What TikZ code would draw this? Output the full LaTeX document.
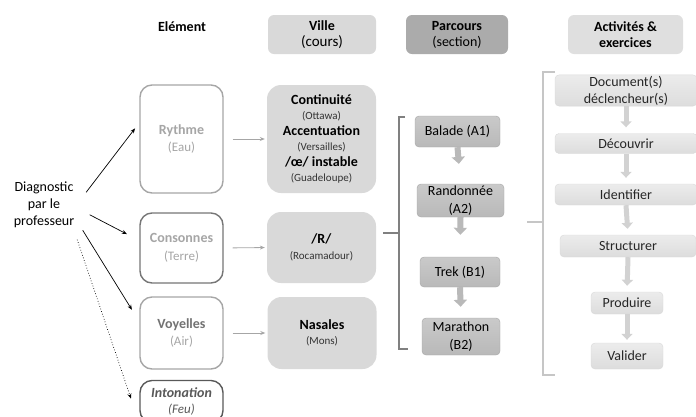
\documentclass[tikz,border=0pt]{standalone}
\usepackage{fontspec}
\setmainfont{Carlito}
\usetikzlibrary{positioning,arrows.meta,calc}

\definecolor{grismoyen}{HTML}{A6A6A6}
\definecolor{grisbord}{HTML}{767676}
\definecolor{grisfonce}{HTML}{595959}
\newcommand{\taille}[2]{\fontsize{#1}{#2}\selectfont}
\newcommand{\petit}[1]{{\taille{11}{12}\color{black!80}#1}}

\begin{document}
\begin{tikzpicture}[x=1pt, y=-1pt, >={Stealth[length=5pt,width=4pt]},
    entete/.style={rounded corners=6pt, minimum height=39pt, align=center, inner sep=0pt, font=\taille{14}{16}},
    elem/.style={draw, rounded corners=12pt, line width=1.4pt, fill=white, minimum width=83pt, align=center, inner sep=0pt, font=\taille{14}{17.5}},
    ville/.style={fill=gray!30, rounded corners=14pt, minimum width=109pt, align=center, inner sep=0pt, font=\taille{14}{15.4}},
    parc/.style={draw=gray!70, top color=gray!42, bottom color=gray!55, rounded corners=4pt, align=center, inner sep=1pt, font=\taille{14}{18}},
    activ/.style={draw=gray!30, top color=gray!15, bottom color=gray!27, rounded corners=4pt, align=center, inner xsep=2pt, inner ysep=1pt, text=black!85, font=\taille{14}{17}},
    lien/.style={->, grismoyen, line width=0.8pt, shorten <=9pt, shorten >=2pt},
    diagfl/.style={->, line width=0.7pt},
    fleche/.style={-{Triangle[width=13pt,length=7pt]}, line width=6pt, gray!55},
    flechea/.style={-{Triangle[width=11pt,length=6pt]}, line width=5pt, gray!35},
  ]
\clip (0,0) rectangle (696,416);

% En-têtes
\node[font=\bfseries\taille{14}{16}] (element) at (182,27) {Elément};
\node[entete, fill=gray!30, minimum width=108pt] (tville) at (322,34.5) {\textbf{Ville}\\{\taille{15}{16}(cours)}};
\node[entete, fill=gray!66, minimum width=102pt] (tparc) at (457,34.5) {\textbf{Parcours}\\(section)};
\node[entete, fill=gray!25, minimum width=115pt, font=\bfseries\taille{14}{16}] (tactiv) at (625.5,34.5) {Activités \&\\exercices};

% Diagnostic
\node[align=center, inner sep=2pt, font=\taille{14}{17}] (diag) at (44,205) {Diagnostic\\par le\\professeur};

% Éléments
\node[elem, draw=grismoyen, text=grismoyen, minimum height=108pt] (rythme) at (181.5,139) {\textbf{Rythme}\\{\taille{13}{14}(Eau)}};
\node[elem, draw=grisbord, text=grismoyen, minimum height=70pt] (consonnes) at (181.5,248) {\textbf{Consonnes}\\{\taille{13}{14}(Terre)}};
\node[elem, draw=grismoyen, text=grismoyen, minimum height=72pt] (voyelles) at (181.5,333) {\textcolor{black!55}{\textbf{Voyelles}}\\{\taille{13}{14}(Air)}};
\node[elem, draw=grisfonce, text=grisfonce, minimum height=42pt, font=\taille{14}{16.5}] (intonation) at (181.5,401.5) {\textbf{\textit{Intonation}}\\{\itshape\taille{13}{14}(Feu)}};

% Villes
\node[ville, minimum height=108pt] (continuite) at (321.5,139) {\textbf{Continuité}\\\petit{(Ottawa)}\\\textbf{Accentuation}\\\petit{(Versailles)}\\\textbf{/œ/ instable}\\\petit{(Guadeloupe)}};
\node[ville, minimum height=71pt] (rvil) at (321.5,247.5) {\textbf{/R/}\\\petit{(Rocamadour)}};
\node[ville, minimum height=72pt] (nasales) at (322,333) {\textbf{Nasales}\\\petit{(Mons)}};

% Parcours
\node[parc, minimum width=85pt, minimum height=31pt] (balade) at (457.5,131.5) {Balade (A1)};
\node[parc, minimum width=87pt, minimum height=33pt] (rando) at (460.5,200.5) {Randonnée\\(A2)};
\node[parc, minimum width=80pt, minimum height=30pt] (trek) at (460,272) {Trek (B1)};
\node[parc, minimum width=78pt, minimum height=37pt] (marathon) at (461,336.5) {Marathon\\(B2)};

% Activités
\node[activ, minimum width=142pt, minimum height=31pt] (document) at (626,90.5) {Document(s)\\déclencheur(s)};
\node[activ, minimum width=142pt, minimum height=20pt] (decouvrir) at (626,143.5) {Découvrir};
\node[activ, minimum width=142pt, minimum height=21pt] (identifier) at (626,194.5) {Identifier};
\node[activ, minimum width=136pt, minimum height=22pt] (structurer) at (628,246) {Structurer};
\node[activ, minimum width=72pt, minimum height=22pt] (produire) at (627,303) {Produire};
\node[activ, minimum width=72pt, minimum height=26pt] (valider) at (627,356) {Valider};

% Flèches du diagnostic
\draw[diagfl, shorten <=16pt, shorten >=7pt] (diag.0) -- (rythme.159);
\draw[diagfl, shorten <=15pt, shorten >=14pt] (diag.-5) -- (consonnes.170);
\draw[diagfl, shorten <=12pt, shorten >=14pt] (diag.-25) -- (voyelles.165);
\draw[diagfl, dotted, shorten <=10pt, shorten >=26pt] (diag.-40) -- (intonation.south west);

% Liens élément -> ville
\draw[lien] (rythme.east) -- (continuite.west);
\draw[lien] (consonnes.east) -- (rvil.west);
\draw[lien] (voyelles.east) -- (nasales.west);

% Accolades
\draw[gray, line width=1.2pt] (405,117) -- (399,117) -- (399,349) -- (408,349);
\draw[gray, line width=1.2pt] (399,233) -- (383,233);
\draw[gray!45, line width=1.2pt] (555,72) -- (543,72) -- (543,375) -- (555,375);
\draw[gray!45, line width=1.2pt] (543,222) -- (527,222);

% Progression
\draw[fleche, shorten >=20pt] (balade.south) -- (rando.north);
\draw[fleche, shorten >=22pt] (rando.south) -- (trek.north);
\draw[fleche, shorten >=11pt] (trek.south) -- (marathon.north);
\draw[flechea, shorten >=6pt] (document.south) -- (decouvrir.north);
\draw[flechea, shorten >=6pt] (decouvrir.south) -- (identifier.north);
\draw[flechea, shorten >=6pt] (identifier.south) -- (structurer.north);
\draw[flechea, shorten >=6pt] (structurer.south) -- (produire.north);
\draw[flechea, shorten >=3pt] (produire.south) -- (valider.north);
\end{tikzpicture}
\end{document}
